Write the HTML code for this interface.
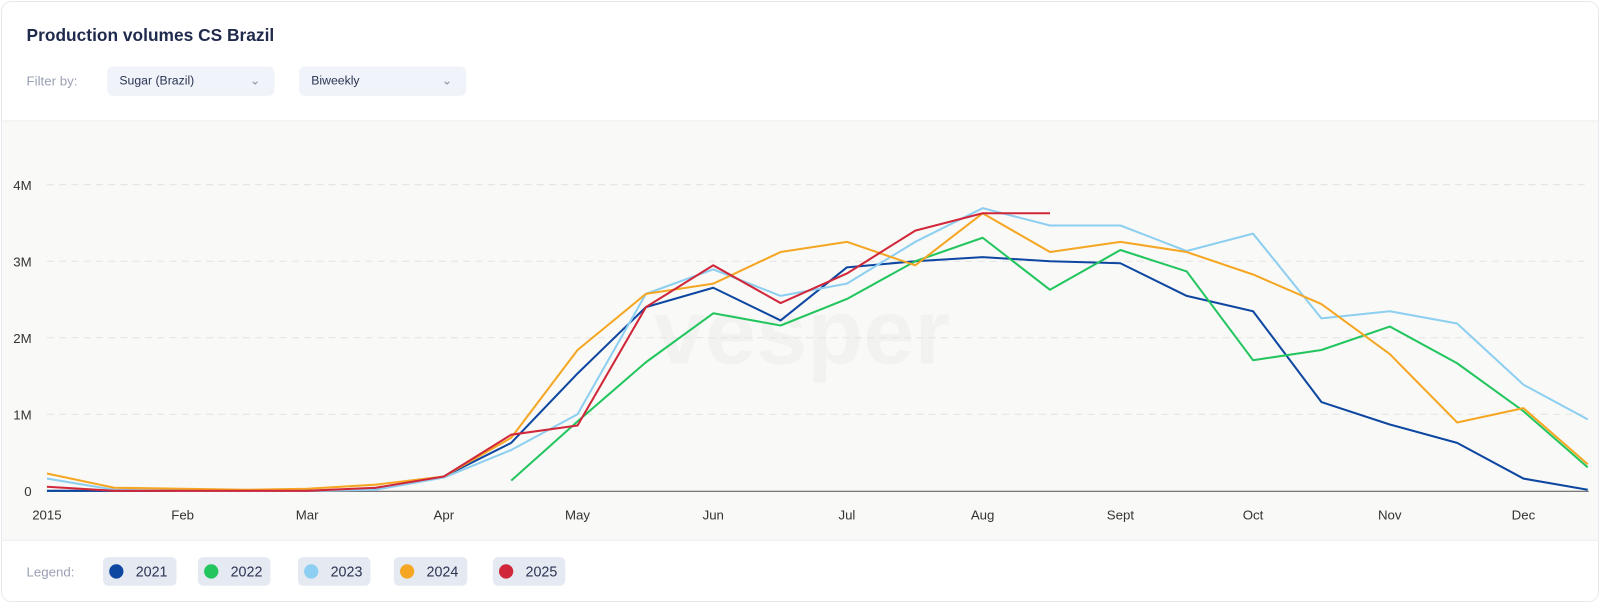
<!DOCTYPE html>
<html><head><meta charset="utf-8"><style>
body{margin:0;background:#fff;font-family:"Liberation Sans",sans-serif;width:1600px;height:602px;overflow:hidden}
.wrap{position:absolute;left:0;top:0;width:1568px;height:590px;transform:scale(1.0204);transform-origin:0 0}
.card{position:absolute;left:1px;top:1px;width:1564px;height:587px;border:1px solid #e6e8ee;border-radius:10px;overflow:hidden;background:#fff}
h1{position:absolute;left:24px;top:23px;margin:0;font-size:17px;font-weight:bold;color:#1f2a4d}
.fl{position:absolute;top:70px;font-size:13px;color:#9aa0b4}
.sel{position:absolute;top:63px;height:29px;background:#f0f3f9;border-radius:6px;font-size:12px;color:#2b3452;line-height:29px;padding-left:12px;box-sizing:border-box}
.sel span{position:absolute;right:14px;top:0;color:#8a90a2}
.chart{position:absolute;left:0;top:116px;width:1566px;height:410px;background:#f9f9f7;border-top:1px solid #eceef2;border-bottom:1px solid #eceef2}
.lg{position:absolute;top:544px;height:28px;background:#e4e9f2;border-radius:5px;font-size:14px;color:#2b3452;line-height:28px;box-sizing:border-box;padding-left:32px}
.lg i{position:absolute;left:6px;top:7px;width:14px;height:14px;border-radius:50%}
</style></head><body>
<div class="wrap">
<div class="card">
<h1>Production volumes CS Brazil</h1>
<div class="fl" style="left:24px">Filter by:</div>
<div class="sel" style="left:103px;width:164px">Sugar (Brazil)<span>&#8964;</span></div>
<div class="sel" style="left:291px;width:164px">Biweekly<span>&#8964;</span></div>
<div class="chart"></div>
<svg style="position:absolute;left:-1px;top:-1px" width="1568" height="590" font-family="Liberation Sans, sans-serif">
<text x="785" y="355" font-size="90" font-weight="bold" fill="#000" opacity="0.025" text-anchor="middle">vesper</text>
<g stroke="#e3e3e3" stroke-dasharray="7,5" stroke-width="1">
<line x1="45" x2="1556" y1="180" y2="180"/><line x1="45" x2="1556" y1="255" y2="255"/><line x1="45" x2="1556" y1="330" y2="330"/><line x1="45" x2="1556" y1="405" y2="405"/>
</g>
<line x1="45" x2="1556" y1="480.5" y2="480.5" stroke="#666" stroke-width="1.2"/>
<g font-size="13" fill="#333" text-anchor="end"><text x="30" y="185">4M</text><text x="30" y="260">3M</text><text x="30" y="335">2M</text><text x="30" y="410">1M</text><text x="30" y="485">0</text></g>
<g font-size="13" fill="#333" text-anchor="middle">
<text x="45" y="508">2015</text><text x="178" y="508">Feb</text><text x="300" y="508">Mar</text><text x="434" y="508">Apr</text><text x="565" y="508">May</text><text x="698" y="508">Jun</text><text x="829" y="508">Jul</text><text x="962" y="508">Aug</text><text x="1097" y="508">Sept</text><text x="1227" y="508">Oct</text><text x="1361" y="508">Nov</text><text x="1492" y="508">Dec</text></g>
<g fill="none" stroke-width="2" stroke-linejoin="round">
<polyline stroke="#0d47a1" points="45,480 111,480 178,480 240,480 300,480 367,478 434,466 500,433 565,365 632,300 698,281 764,313 829,261 896,255 962,251 1028,255 1097,257 1162,289 1227,304 1294,393 1361,415 1427,433 1492,468 1555,479"/>
<polyline stroke="#22c55e" points="500,470 565,412 632,354 698,306 764,318 829,292 896,255 962,232 1028,283 1097,244 1162,265 1227,352 1294,342 1361,319 1427,355 1492,402 1555,457"/>
<polyline stroke="#8dcff0" points="45,468 111,479 178,480 240,480 300,480 367,479 434,467 500,440 565,405 632,287 698,263 764,289 829,277 896,236 962,203 1028,220 1097,220 1162,245 1227,228 1294,311 1361,304 1427,316 1492,376 1555,410"/>
<polyline stroke="#f5a623" points="45,463 111,477 178,478 240,479 300,478 367,474 434,466 500,428 565,342 632,287 698,277 764,246 829,236 896,259 962,208 1028,246 1097,236 1162,246 1227,268 1294,297 1361,346 1427,413 1492,399 1555,454"/>
<polyline stroke="#d0283a" points="45,476 111,480 178,480 240,480 300,480 367,477 434,466 500,425 565,416 632,300 698,259 764,296 829,267 896,225 962,208 1028,208"/>
</g>
</svg>
<div class="fl" style="left:24px;top:551px">Legend:</div>
<div class="lg" style="left:99px;width:72px"><i style="background:#0d47a1"></i>2021</div>
<div class="lg" style="left:192px;width:71px"><i style="background:#22c55e"></i>2022</div>
<div class="lg" style="left:290px;width:71px"><i style="background:#8dcff0"></i>2023</div>
<div class="lg" style="left:384px;width:72px"><i style="background:#f5a623"></i>2024</div>
<div class="lg" style="left:481px;width:71px"><i style="background:#d0283a"></i>2025</div>
</div>
</div>
</body></html>
